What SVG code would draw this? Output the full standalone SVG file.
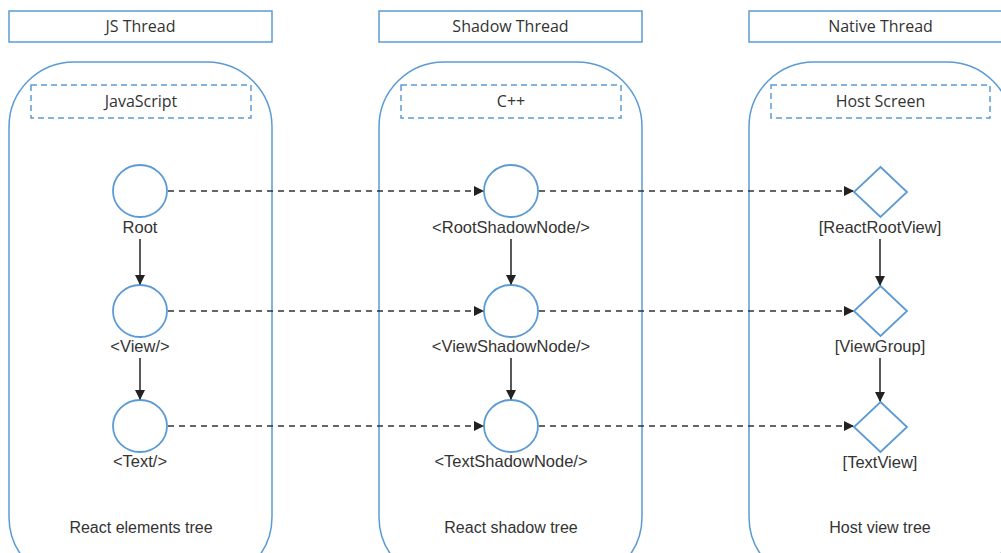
<svg xmlns="http://www.w3.org/2000/svg" width="1001" height="553" viewBox="0 0 1001 553">
<defs>
<marker id="ah" markerWidth="10" markerHeight="10" refX="9" refY="5" orient="auto" markerUnits="userSpaceOnUse">
<path d="M0,0 L10,5 L0,10 z" fill="#222"/>
</marker>
<style>
.hdr{fill:#fff;stroke:#5b9bd5;stroke-width:1.5}
.lane{fill:#fff;stroke:#5b9bd5;stroke-width:1.5}
.lang{fill:none;stroke:#5b9bd5;stroke-width:1.5;stroke-dasharray:6,4}
.node{fill:#fff;stroke:#5b9bd5;stroke-width:1.8}
.ht{font-family:"Open Sans",sans-serif;font-size:16px;fill:#333;text-anchor:middle}
.lt{font-family:"Liberation Sans",Arial,sans-serif;font-size:16.5px;fill:#333;text-anchor:middle}
.bt{font-family:"Liberation Sans",Arial,sans-serif;font-size:16px;fill:#333;text-anchor:middle}
.solid{stroke:#222;stroke-width:1.5;fill:none;marker-end:url(#ah)}
.dash{stroke:#333;stroke-width:1.5;fill:none;stroke-dasharray:6,5;marker-end:url(#ah)}
</style>
</defs>
<rect width="1001" height="553" fill="#fff"/>
<g id="lane-js">
<rect class="hdr" x="9" y="11" width="263" height="31"/>
<text class="ht" x="140.5" y="32">JS Thread</text>
<rect class="lane" x="9" y="62" width="263" height="520" rx="65" ry="65"/>
<rect class="lang" x="31" y="85" width="220" height="33"/>
<text class="ht" x="141" y="107">JavaScript</text>
<text class="bt" x="141" y="533">React elements tree</text>
</g>
<g id="lane-shadow">
<rect class="hdr" x="379" y="11" width="263" height="31"/>
<text class="ht" x="510.5" y="32">Shadow Thread</text>
<rect class="lane" x="379" y="62" width="263" height="520" rx="65" ry="65"/>
<rect class="lang" x="401" y="85" width="220" height="33"/>
<text class="ht" x="511" y="107">C++</text>
<text class="bt" x="511" y="533">React shadow tree</text>
</g>
<g id="lane-native">
<rect class="hdr" x="749" y="11" width="263" height="31"/>
<text class="ht" x="880.5" y="32">Native Thread</text>
<rect class="lane" x="749" y="62" width="263" height="520" rx="65" ry="65"/>
<rect class="lang" x="771" y="85" width="219" height="33"/>
<text class="ht" x="880.5" y="107">Host Screen</text>
<text class="bt" x="880" y="533">Host view tree</text>
</g>
<g id="node-root">
<ellipse class="node" cx="140" cy="191" rx="27" ry="26"/>
<text class="lt" x="140" y="233">Root</text>
</g>
<g id="node-view">
<ellipse class="node" cx="140" cy="311" rx="27" ry="26"/>
<text class="lt" x="140" y="352">&lt;View/&gt;</text>
</g>
<g id="node-text">
<ellipse class="node" cx="140" cy="426" rx="27" ry="26"/>
<text class="lt" x="140" y="467">&lt;Text/&gt;</text>
</g>
<g id="node-rootshadow">
<ellipse class="node" cx="511" cy="191" rx="27" ry="26"/>
<text class="lt" x="511" y="233">&lt;RootShadowNode/&gt;</text>
</g>
<g id="node-viewshadow">
<ellipse class="node" cx="511" cy="311" rx="27" ry="26"/>
<text class="lt" x="511" y="352">&lt;ViewShadowNode/&gt;</text>
</g>
<g id="node-textshadow">
<ellipse class="node" cx="511" cy="426" rx="27" ry="26"/>
<text class="lt" x="511" y="467">&lt;TextShadowNode/&gt;</text>
</g>
<g id="node-reactrootview">
<polygon class="node" points="880.5,167 907,192 880.5,217 854,192"/>
<text class="lt" x="880" y="233">[ReactRootView]</text>
</g>
<g id="node-viewgroup">
<polygon class="node" points="880.5,286 907,311 880.5,336 854,311"/>
<text class="lt" x="880" y="352">[ViewGroup]</text>
</g>
<g id="node-textview">
<polygon class="node" points="880.5,402 907,427 880.5,452 854,427"/>
<text class="lt" x="880" y="468">[TextView]</text>
</g>
<g id="connectors">
<line class="solid" x1="140" y1="239" x2="140" y2="284"/>
<line class="solid" x1="140" y1="358" x2="140" y2="399"/>
<line class="solid" x1="511" y1="239" x2="511" y2="284"/>
<line class="solid" x1="511" y1="358" x2="511" y2="399"/>
<line class="solid" x1="880" y1="239" x2="880" y2="285"/>
<line class="solid" x1="880" y1="358" x2="880" y2="401"/>
<line class="dash" x1="168" y1="191" x2="483" y2="191"/>
<line class="dash" x1="168" y1="311" x2="483" y2="311"/>
<line class="dash" x1="168" y1="426" x2="483" y2="426"/>
<line class="dash" x1="539" y1="191" x2="853" y2="191"/>
<line class="dash" x1="539" y1="311" x2="853" y2="311"/>
<line class="dash" x1="539" y1="426" x2="853" y2="426"/>
</g>
</svg>
